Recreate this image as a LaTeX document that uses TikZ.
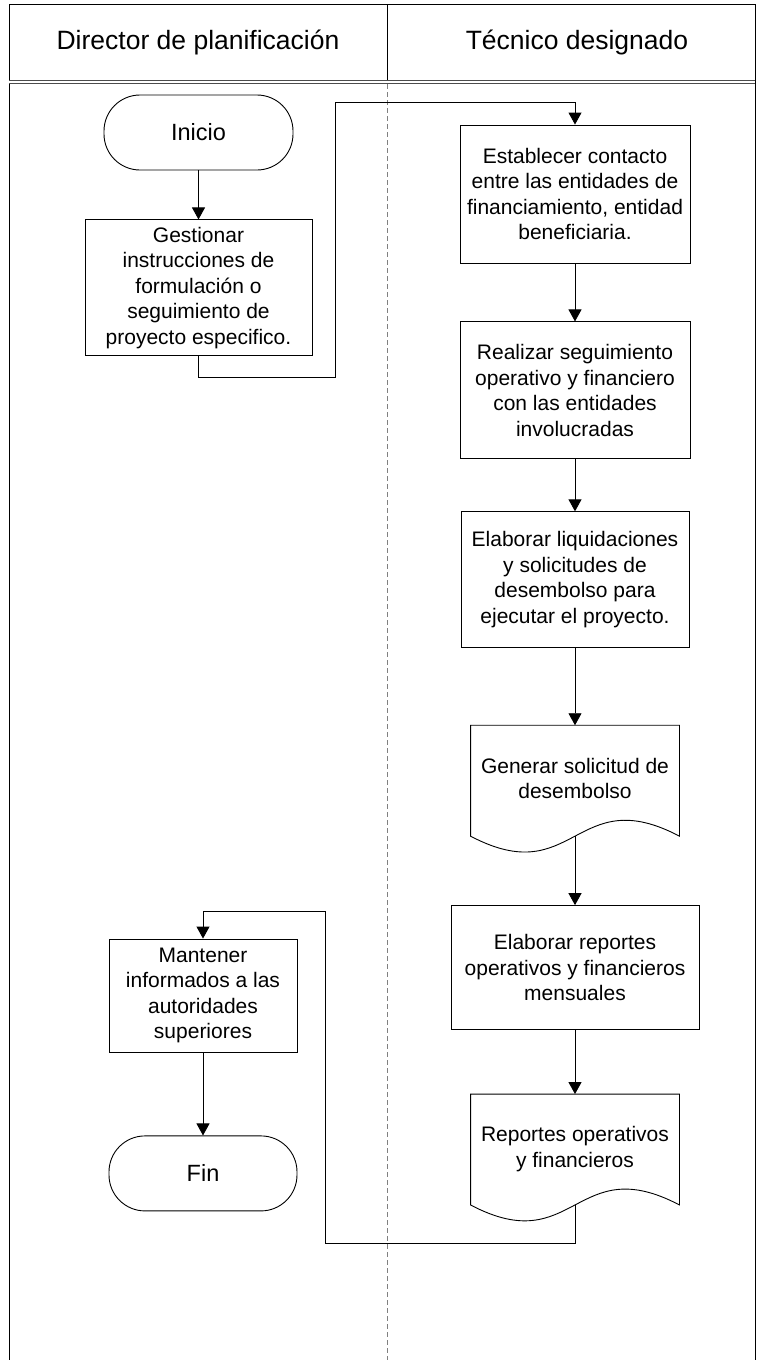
\documentclass[tikz,border=0pt]{standalone}
\usepackage{fontspec}
\setmainfont{Liberation Sans}
\usetikzlibrary{arrows.meta,positioning,calc}
\newcommand{\boxfont}{\fontsize{21pt}{25.5pt}\selectfont}
\newcommand{\termfont}{\fontsize{23.5pt}{28pt}\selectfont}
\newcommand{\headfont}{\fontsize{26.5pt}{30pt}\selectfont}

\begin{document}
\begin{tikzpicture}[
  x=1pt, y=-1pt,
  line width=0.9pt,
  node distance=50pt,
  proc/.style={draw,align=center,font=\boxfont,inner sep=3pt},
  term/.style={draw,rounded corners=36pt,font=\termfont,
    minimum width=189pt,minimum height=75pt},
  docu/.style={inner sep=0pt,minimum width=208pt,minimum height=110pt,font=\boxfont},
  lane/.style={font=\headfont},
  arr/.style={-{Triangle[length=12pt,width=13pt]}},
  divider/.style={gray,line width=0.8pt,dash pattern=on 5pt off 3pt}
]
\useasboundingbox (0,0) rectangle (756,1360);
% Swimlanes
\draw (9,1365) -- (9,4) -- (755,4) -- (755,1365);
\draw (387,4) -- (387,81);
\draw[double=white,double distance=1.6pt,draw=gray!60!black] (9,82) -- (755,82);
\draw[divider] (387,84) -- (387,1365);
\node[lane] (hdir) at (198,42) {Director de planificación};
\node[lane] (htec) at (577,42) {Técnico designado};
% Director lane
\node[term] (ini) at (198.5,132.5) {Inicio};
\node[proc,minimum width=227pt,minimum height=136pt,below=49pt of ini] (gest)
  {Gestionar\\instrucciones de\\formulación o\\seguimiento de\\proyecto especifico.};
\node[proc,minimum width=188pt,minimum height=113pt] (mant) at (203,995.5)
  {Mantener\\informados a las\\autoridades\\superiores};
\node[term,minimum width=188pt,below=83pt of mant] (fin) {Fin};
% Tecnico lane
\node[proc,minimum width=230pt,minimum height=138pt] (est) at (575,194)
  {Establecer contacto\\entre las entidades de\\financiamiento, entidad\\beneficiaria.};
\node[proc,minimum width=230pt,minimum height=137pt,below=58pt of est] (real)
  {Realizar seguimiento\\operativo y financiero\\con las entidades\\involucradas};
\node[proc,minimum width=228pt,minimum height=136pt,below=52pt of real] (liq)
  {Elaborar liquidaciones\\y solicitudes de\\desembolso para\\ejecutar el proyecto.};
\node[docu,below=77pt of liq] (gen)
  {\raisebox{8pt}{\begin{tabular}{@{}c@{}}Generar solicitud de\\desembolso\end{tabular}}};
\node[proc,minimum width=248pt,minimum height=124pt,below=69pt of gen] (rep)
  {Elaborar reportes\\operativos y financieros\\mensuales};
\node[docu,below=64pt of rep] (rdoc)
  {\raisebox{8pt}{\begin{tabular}{@{}c@{}}Reportes operativos\\y financieros\end{tabular}}};
% document outlines
\foreach \d in {gen,rdoc}
  \draw (\d.north west) -- (\d.north east) -- (\d.south east)
    .. controls ($(\d.south)+(0,-55)$) and ($(\d.south)+(0,55)$) .. (\d.south west) -- cycle;
% Connectors
\coordinate (j1) at (335,377);
\coordinate (j2) at (335,102);
\coordinate (j3) at (325,1243);
\coordinate (j4) at (325,911);
\draw[arr] (ini) -- (gest);
\draw[arr] (gest.south) |- (j1) -- (j2) -| (est.north);
\draw[arr] (est) -- (real);
\draw[arr] (real) -- (liq);
\draw[arr] (liq) -- (gen);
\draw[arr] (gen) -- (rep);
\draw[arr] (rep) -- (rdoc);
\draw[arr] (rdoc.south) |- (j3) -- (j4) -| (mant.north);
\draw[arr] (mant) -- (fin);
\end{tikzpicture}
\end{document}
